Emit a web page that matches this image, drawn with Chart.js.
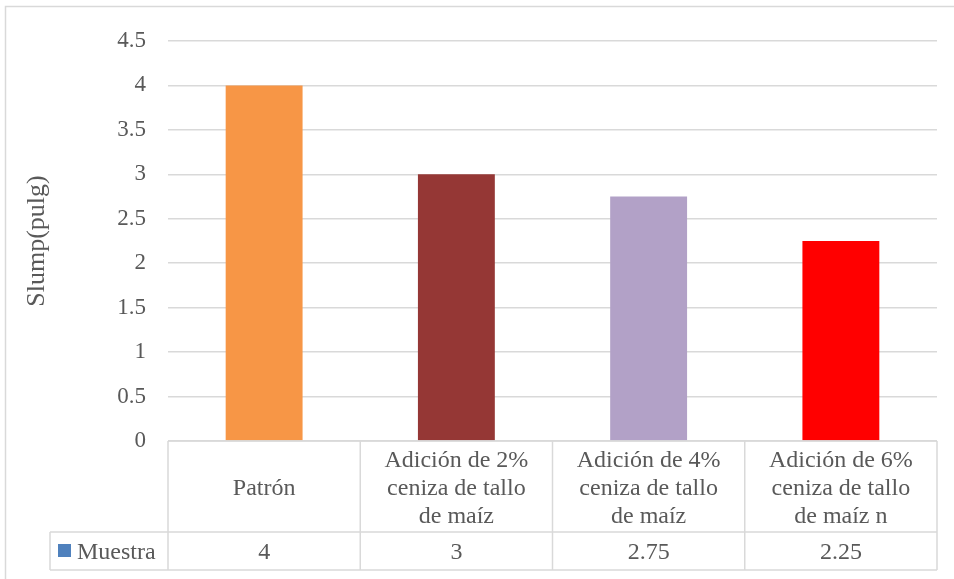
<!DOCTYPE html>
<html>
<head>
<meta charset="utf-8">
<script src="https://cdn.jsdelivr.net/npm/chart.js@4.4.1/dist/chart.umd.min.js"></script>
<style>
    body { margin: 0; background: #ffffff; }
    #main { width: 954px; height: 579px; }
</style>
</head>
<body>
<div id="main"><canvas id="myChart" width="954" height="579"></canvas></div>
<script>
// data
const categories = [
    ['Patrón'],
    ['Adición de 2%', 'ceniza de tallo', 'de maíz'],
    ['Adición de 4%', 'ceniza de tallo', 'de maíz'],
    ['Adición de 6%', 'ceniza de tallo', 'de maíz n']
];
const seriesName = 'Muestra';
const muestra = [4, 3, 2.75, 2.25];
const valueLabels = ['4', '3', '2.75', '2.25'];
const yTicks = [0, 0.5, 1, 1.5, 2, 2.5, 3, 3.5, 4, 4.5];

const barColors = ['#f79646', '#953735', '#b2a1c7', '#ff0000'];
const lineColor = '#d9d9d9';
const textColor = '#595959';
const fontFamily = '"Liberation Serif", serif';

document.addEventListener('DOMContentLoaded', () => {
    chartSlump();
});

//////////////////////////////////////data table under the bars//////////////////////
const dataTable = {
    id: 'dataTable',
    afterDraw(chart) {
        const ctx = chart.ctx;
        const area = chart.chartArea;
        const x = chart.scales.x;
        const step = (area.right - area.left) / categories.length;
        const rowSplit = 532;
        const bottom = 570;
        const legendLeft = 50;

        ctx.save();
        ctx.strokeStyle = lineColor;
        ctx.lineWidth = 1.5;
        ctx.beginPath();
        // horizontal lines
        ctx.moveTo(area.left, area.bottom); ctx.lineTo(area.right, area.bottom);
        ctx.moveTo(legendLeft, rowSplit); ctx.lineTo(area.right, rowSplit);
        ctx.moveTo(legendLeft, bottom); ctx.lineTo(area.right, bottom);
        // vertical lines
        ctx.moveTo(legendLeft, rowSplit); ctx.lineTo(legendLeft, bottom);
        for (let i = 0; i <= categories.length; i++) {
            const px = area.left + i * step;
            ctx.moveTo(px, area.bottom); ctx.lineTo(px, bottom);
        }
        // outer frame: only top and left edges show in the crop
        ctx.moveTo(5.5, 579); ctx.lineTo(5.5, 6.5); ctx.lineTo(954, 6.5);
        ctx.stroke();

        ctx.fillStyle = textColor;
        ctx.font = '24px ' + fontFamily;
        ctx.textAlign = 'center';
        ctx.textBaseline = 'alphabetic';
        categories.forEach((lines, i) => {
            const cx = x.getPixelForTick(i);
            lines.forEach((t, j) => {
                ctx.fillText(t, cx, 495 + (j - (lines.length - 1) / 2) * 28);
            });
            ctx.fillText(valueLabels[i], cx, 559);
        });

        // legend key + series name
        ctx.fillStyle = '#4f81bd';
        ctx.fillRect(58, 544, 13, 13);
        ctx.fillStyle = textColor;
        ctx.textAlign = 'left';
        ctx.fillText(seriesName, 77, 559);
        ctx.restore();
    }
};

function chartSlump() {
    const ctx = document.getElementById('myChart');

    new Chart(ctx, {
        type: 'bar',
        data: {
            labels: categories,
            datasets: [{
                label: seriesName,
                data: muestra,
                backgroundColor: barColors,
                categoryPercentage: 1,
                barPercentage: 0.4
            }]
        },
        options: {
            responsive: false,
            animation: false,
            devicePixelRatio: 1,
            layout: {
                padding: { top: 41, bottom: 138, left: 0, right: 17 }
            },
            plugins: {
                legend: { display: false },
                tooltip: { enabled: false }
            },
            scales: {
                x: {
                    display: false
                },
                y: {
                    min: 0,
                    max: 4.5,
                    afterFit: s => { s.width = 168; },
                    afterBuildTicks: s => { s.ticks = yTicks.map(v => ({ value: v })); },
                    border: { display: false },
                    grid: {
                        color: lineColor,
                        lineWidth: 1.5,
                        drawTicks: false
                    },
                    ticks: {
                        padding: 22,
                        color: textColor,
                        font: { family: fontFamily, size: 23 },
                        callback: v => String(v)
                    },
                    title: {
                        display: true,
                        text: 'Slump(pulg)',
                        color: textColor,
                        padding: { top: 22, bottom: 0 },
                        font: { family: fontFamily, size: 26 }
                    }
                }
            }
        },
        plugins: [dataTable]
    });
}
</script>
</body>
</html>
